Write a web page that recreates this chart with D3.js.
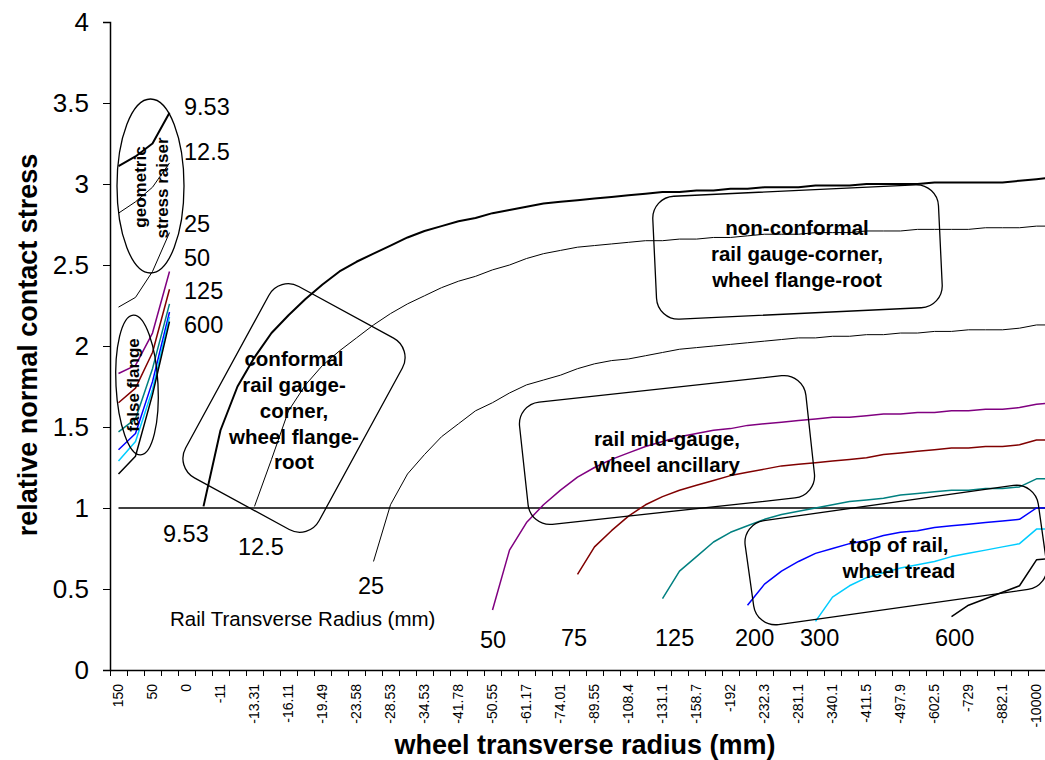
<!DOCTYPE html>
<html>
<head>
<meta charset="utf-8">
<script src="https://cdn.jsdelivr.net/npm/d3@7"></script>
<style>
	body { margin: 0; background: #fff; }
	svg { display: block; font-family: "Liberation Sans", Arial, sans-serif; }
</style>
</head>
<body>
<div id="chart"></div>
<script>

// labelled categories (every other category of the x axis carries a label)
const tickLabels = ["150", "50", "0", "-11", "-13.31", "-16.11", "-19.49", "-23.58", "-28.53", "-34.53",
	"-41.78", "-50.55", "-61.17", "-74.01", "-89.55", "-108.4", "-131.1", "-158.7", "-192", "-232.3",
	"-281.1", "-340.1", "-411.5", "-497.9", "-602.5", "-729", "-882.1", "-10000"];
const nCats = 56;
const yTicks = [0, 0.5, 1, 1.5, 2, 2.5, 3, 3.5, 4];

const gap = n => Array(n).fill(null);

// rail transverse radius series (false flange part, then main part)
const r9_53 = [3.11, 3.17, 3.25, 3.44, ...gap(1),
	1.01, 1.48, 1.75, 1.93, 2.08, 2.19, 2.29, 2.38, 2.46, 2.52, 2.57, 2.62, 2.67, 2.71, 2.74,
	2.77, 2.79, 2.82, 2.84, 2.86, 2.88, 2.89, 2.90, 2.91, 2.92, 2.93, 2.94, 2.95, 2.95, 2.96,
	2.96, 2.97, 2.97, 2.98, 2.98, 2.98, 2.99, 2.99, 2.99, 3.00, 3.00, 3.00, 3.00, 3.01, 3.01,
	3.01, 3.01, 3.01, 3.02, 3.03, 3.04];
const r12_5 = [2.82, 2.89, 2.98, 3.13, ...gap(4),
	1.01, 1.30, 1.60, 1.76, 1.88, 1.97, 2.05, 2.13, 2.20, 2.26, 2.31, 2.36, 2.40, 2.43, 2.47,
	2.50, 2.54, 2.57, 2.59, 2.61, 2.62, 2.63, 2.64, 2.65, 2.65, 2.66, 2.66, 2.67, 2.67, 2.68,
	2.69, 2.69, 2.69, 2.70, 2.70, 2.70, 2.71, 2.71, 2.71, 2.72, 2.72, 2.72, 2.72, 2.73, 2.73,
	2.73, 2.74, 2.74];
const r25 = [2.24, 2.30, 2.46, 2.70, ...gap(11),
	0.67, 1.02, 1.21, 1.33, 1.44, 1.52, 1.60, 1.65, 1.71, 1.76, 1.79, 1.82, 1.86, 1.89, 1.91,
	1.92, 1.94, 1.96, 1.98, 1.99, 2.00, 2.01, 2.02, 2.03, 2.04, 2.05, 2.05, 2.06, 2.06, 2.07,
	2.07, 2.08, 2.08, 2.09, 2.09, 2.10, 2.10, 2.10, 2.11, 2.13, 2.13];
const r50 = [1.83, 1.88, 2.08, 2.46, ...gap(18),
	0.37, 0.74, 0.91, 1.02, 1.11, 1.19, 1.25, 1.30, 1.34, 1.38, 1.41, 1.44, 1.46, 1.48, 1.49,
	1.51, 1.52, 1.53, 1.54, 1.55, 1.56, 1.56, 1.57, 1.58, 1.58, 1.59, 1.59, 1.60, 1.60, 1.61,
	1.61, 1.62, 1.64, 1.65];
const r75 = [1.65, 1.74, 1.96, 2.35, ...gap(23),
	0.59, 0.76, 0.86, 0.95, 1.02, 1.07, 1.11, 1.14, 1.17, 1.20, 1.22, 1.24, 1.26, 1.27, 1.28,
	1.29, 1.30, 1.31, 1.33, 1.34, 1.35, 1.36, 1.37, 1.37, 1.38, 1.38, 1.39, 1.42, 1.42];
const r125 = [1.47, 1.55, 1.86, 2.26, ...gap(28),
	0.44, 0.61, 0.70, 0.79, 0.85, 0.89, 0.93, 0.96, 0.98, 1.00, 1.02, 1.04, 1.05, 1.06, 1.08,
	1.09, 1.10, 1.11, 1.11, 1.12, 1.12, 1.13, 1.18, 1.18];
const r200 = [1.36, 1.46, 1.78, 2.21, ...gap(33),
	0.40, 0.53, 0.61, 0.67, 0.72, 0.75, 0.78, 0.80, 0.83, 0.85, 0.86, 0.88, 0.89, 0.90, 0.91,
	0.92, 0.93, 1.00, 1.00];
const r300 = [1.29, 1.41, 1.73, 2.18, ...gap(37),
	0.30, 0.45, 0.52, 0.57, 0.60, 0.63, 0.65, 0.67, 0.70, 0.72, 0.74, 0.76, 0.78, 0.87, 0.87];
const r600 = [1.21, 1.32, 1.70, 2.15, ...gap(45),
	0.33, 0.40, 0.44, 0.48, 0.52, 0.68, 0.69];
const unity = Array(nCats).fill(1);

const seriesList = [
	{name: "1.0", values: unity, color: "#000", width: 1.3},
	{name: "9.53", values: r9_53, color: "#000", width: 2},
	{name: "12.5", values: r12_5, color: "#000", width: 1},
	{name: "25", values: r25, color: "#000", width: 1},
	{name: "50", values: r50, color: "#800080", width: 1.5},
	{name: "75", values: r75, color: "#800000", width: 1.5},
	{name: "125", values: r125, color: "#008080", width: 1.5},
	{name: "200", values: r200, color: "#0000ff", width: 1.5},
	{name: "300", values: r300, color: "#00ccff", width: 1.5},
	{name: "600", values: r600, color: "#000", width: 1.5}
];

let W = 1045, H = 760;
let margin = {top: 22, left: 110, bottom: 90};
let plotRight = 1062;

let svg = d3.select("#chart").append("svg")
	.attr("width", W)
	.attr("height", H);

// Scales
let x = d3.scaleBand()
	.domain(d3.range(nCats))
	.range([margin.left, plotRight]);
let xEdge = d3.scaleLinear()
	.domain([0, nCats])
	.range([margin.left, plotRight]);
let y = d3.scaleLinear()
	.domain([0, 4])
	.range([H - margin.bottom, margin.top]);

let cx = i => x(i) + x.bandwidth() / 2;

// Y axis
let yAxis = svg.append("g")
	.attr("transform", "translate(" + margin.left + ",0)")
	.call(d3.axisLeft(y).tickValues(yTicks).tickSize(7).tickPadding(14).tickFormat(d => String(d)));
yAxis.select(".domain").attr("stroke-width", 1.5);
yAxis.selectAll("text").attr("font-size", 26).attr("font-family", "Liberation Sans, Arial");

// X axis: tick marks on category edges
let xTickG = svg.append("g")
	.attr("transform", "translate(0," + y(0) + ")")
	.call(d3.axisBottom(xEdge).tickValues(d3.range(nCats + 1)).tickSize(6).tickSizeOuter(0).tickFormat(""));
xTickG.select(".domain").attr("stroke-width", 1.5);

// X axis labels, every other category, rotated
let xLabG = svg.append("g")
	.attr("transform", "translate(0," + y(0) + ")")
	.call(d3.axisBottom(x).tickValues(d3.range(0, nCats, 2)).tickSize(0).tickFormat(i => tickLabels[i / 2]));
xLabG.select(".domain").remove();
xLabG.selectAll("text")
	.attr("font-size", 14)
	.attr("font-family", "Liberation Sans, Arial")
	.attr("text-anchor", "end")
	.attr("dy", "0.35em")
	.attr("transform", "translate(0,14) rotate(-90)")
	.attr("x", 0)
	.attr("y", 0);

// Lines
let line = d3.line()
	.defined(d => d.v != null)
	.x(d => cx(d.i))
	.y(d => y(d.v));

svg.append("g").selectAll("path")
	.data(seriesList)
	.enter()
	.append("path")
	.attr("fill", "none")
	.attr("stroke", d => d.color)
	.attr("stroke-width", d => d.width)
	.attr("stroke-linejoin", "round")
	.attr("d", d => line(d.values.map((v, i) => ({i: i, v: v}))));

// Annotation shapes
let shapes = svg.append("g").attr("fill", "none").attr("stroke", "#000").attr("stroke-width", 1.3);

shapes.append("ellipse").attr("cx", 150.5).attr("cy", 186).attr("rx", 33.5).attr("ry", 87);
shapes.append("ellipse").attr("cx", 137).attr("cy", 385).attr("rx", 21).attr("ry", 70)
	.attr("transform", "rotate(-3,137,385)");

let boxes = [
	{cx: 294, cy: 408, w: 152, h: 218, rot: 28.6},
	{cx: 797.5, cy: 252, w: 286, h: 123, rot: -2.7},
	{cx: 667, cy: 450, w: 288, h: 123, rot: -6.2},
	{cx: 896, cy: 555, w: 296, h: 105, rot: -8}
];
shapes.selectAll("rect")
	.data(boxes)
	.enter()
	.append("rect")
	.attr("x", d => -d.w / 2)
	.attr("y", d => -d.h / 2)
	.attr("width", d => d.w)
	.attr("height", d => d.h)
	.attr("rx", 22)
	.attr("transform", d => "translate(" + d.cx + "," + d.cy + ") rotate(" + d.rot + ")");

// Box texts
let boxTexts = [
	{x: 294, y: 359, lines: ["conformal", "rail gauge-", "corner,", "wheel flange-", "root"]},
	{x: 797, y: 228, lines: ["non-conformal", "rail gauge-corner,", "wheel flange-root"]},
	{x: 667, y: 439, lines: ["rail mid-gauge,", "wheel ancillary"]},
	{x: 899, y: 545, lines: ["top of rail,", "wheel tread"]}
];
boxTexts.forEach(b => {
	let t = svg.append("text")
		.attr("x", b.x)
		.attr("y", b.y)
		.attr("text-anchor", "middle")
		.attr("font-weight", "bold")
		.attr("font-size", 20.5);
	b.lines.forEach((l, k) => {
		t.append("tspan")
			.attr("x", b.x)
			.attr("y", b.y + k * 25.8)
			.attr("dy", "0.35em")
			.text(l);
	});
});

// Ellipse texts (rotated)
let rotTexts = [
	{x: 140, y: 187, text: "geometric"},
	{x: 162, y: 188, text: "stress raiser"},
	{x: 133, y: 385, text: "false flange"}
];
svg.selectAll(".rot-text")
	.data(rotTexts)
	.enter()
	.append("text")
	.attr("class", "rot-text")
	.attr("transform", d => "translate(" + d.x + "," + d.y + ") rotate(-90)")
	.attr("text-anchor", "middle")
	.attr("dy", "0.35em")
	.attr("font-weight", "bold")
	.attr("font-size", 17)
	.text(d => d.text);

// Radius labels
let radiusLabels = [
	{x: 184, y: 107, text: "9.53"}, {x: 184, y: 152, text: "12.5"}, {x: 184, y: 224, text: "25"},
	{x: 184, y: 258, text: "50"}, {x: 184, y: 291, text: "125"}, {x: 184, y: 325, text: "600"},
	{x: 163, y: 534, text: "9.53"}, {x: 238, y: 547, text: "12.5"}, {x: 358, y: 586, text: "25"},
	{x: 480, y: 640, text: "50"}, {x: 561, y: 638, text: "75"}, {x: 655, y: 638, text: "125"},
	{x: 735, y: 638, text: "200"}, {x: 800, y: 638, text: "300"}, {x: 935, y: 638, text: "600"}
];
svg.selectAll(".rad-label")
	.data(radiusLabels)
	.enter()
	.append("text")
	.attr("class", "rad-label")
	.attr("x", d => d.x)
	.attr("y", d => d.y)
	.attr("dy", "0.35em")
	.attr("font-size", 23.5)
	.text(d => d.text);

svg.append("text")
	.attr("x", 170)
	.attr("y", 619)
	.attr("dy", "0.35em")
	.attr("font-size", 20.5)
	.text("Rail Transverse Radius (mm)");

// Axis titles
svg.append("text")
	.attr("transform", "translate(28,345) rotate(-90)")
	.attr("text-anchor", "middle")
	.attr("dy", "0.35em")
	.attr("font-weight", "bold")
	.attr("font-size", 27)
	.text("relative normal contact stress");

svg.append("text")
	.attr("x", 585)
	.attr("y", 745)
	.attr("text-anchor", "middle")
	.attr("dy", "0.35em")
	.attr("font-weight", "bold")
	.attr("font-size", 27)
	.text("wheel transverse radius (mm)");

</script>
</body>
</html>
